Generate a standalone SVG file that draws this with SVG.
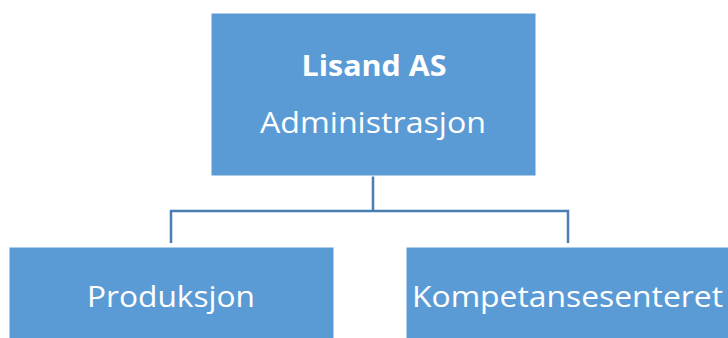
<svg xmlns="http://www.w3.org/2000/svg" width="728" height="338" viewBox="0 0 728 338">
<style>
.box{fill:#5B9BD5;stroke:#FFFFFF;stroke-width:1}
.t{font-family:"Open Sans","Liberation Sans",sans-serif;fill:#FFFFFF;font-size:29px;text-anchor:middle}
.b{font-weight:bold}
.c{fill:none;stroke:#4A7EB0;stroke-width:2.5}
</style>
<rect width="728" height="338" fill="#FFFFFF"/>
<g id="connectors">
<path class="c" d="M373 176 V211 M171 243 V211 H568 V243"/>
</g>
<g id="lisand">
<rect class="box" x="211" y="13" width="325" height="163"/>
<text class="t b" x="374" y="76" textLength="145" lengthAdjust="spacingAndGlyphs">Lisand AS</text>
<text class="t" x="373" y="133" textLength="226" lengthAdjust="spacingAndGlyphs">Administrasjon</text>
</g>
<g id="produksjon">
<rect class="box" x="9" y="247" width="325" height="95"/>
<text class="t" x="171" y="307" textLength="168" lengthAdjust="spacingAndGlyphs">Produksjon</text>
</g>
<g id="kompetanse">
<rect class="box" x="406" y="247" width="330" height="95"/>
<text class="t" x="567.5" y="307" textLength="311" lengthAdjust="spacingAndGlyphs">Kompetansesenteret</text>
</g>
</svg>
